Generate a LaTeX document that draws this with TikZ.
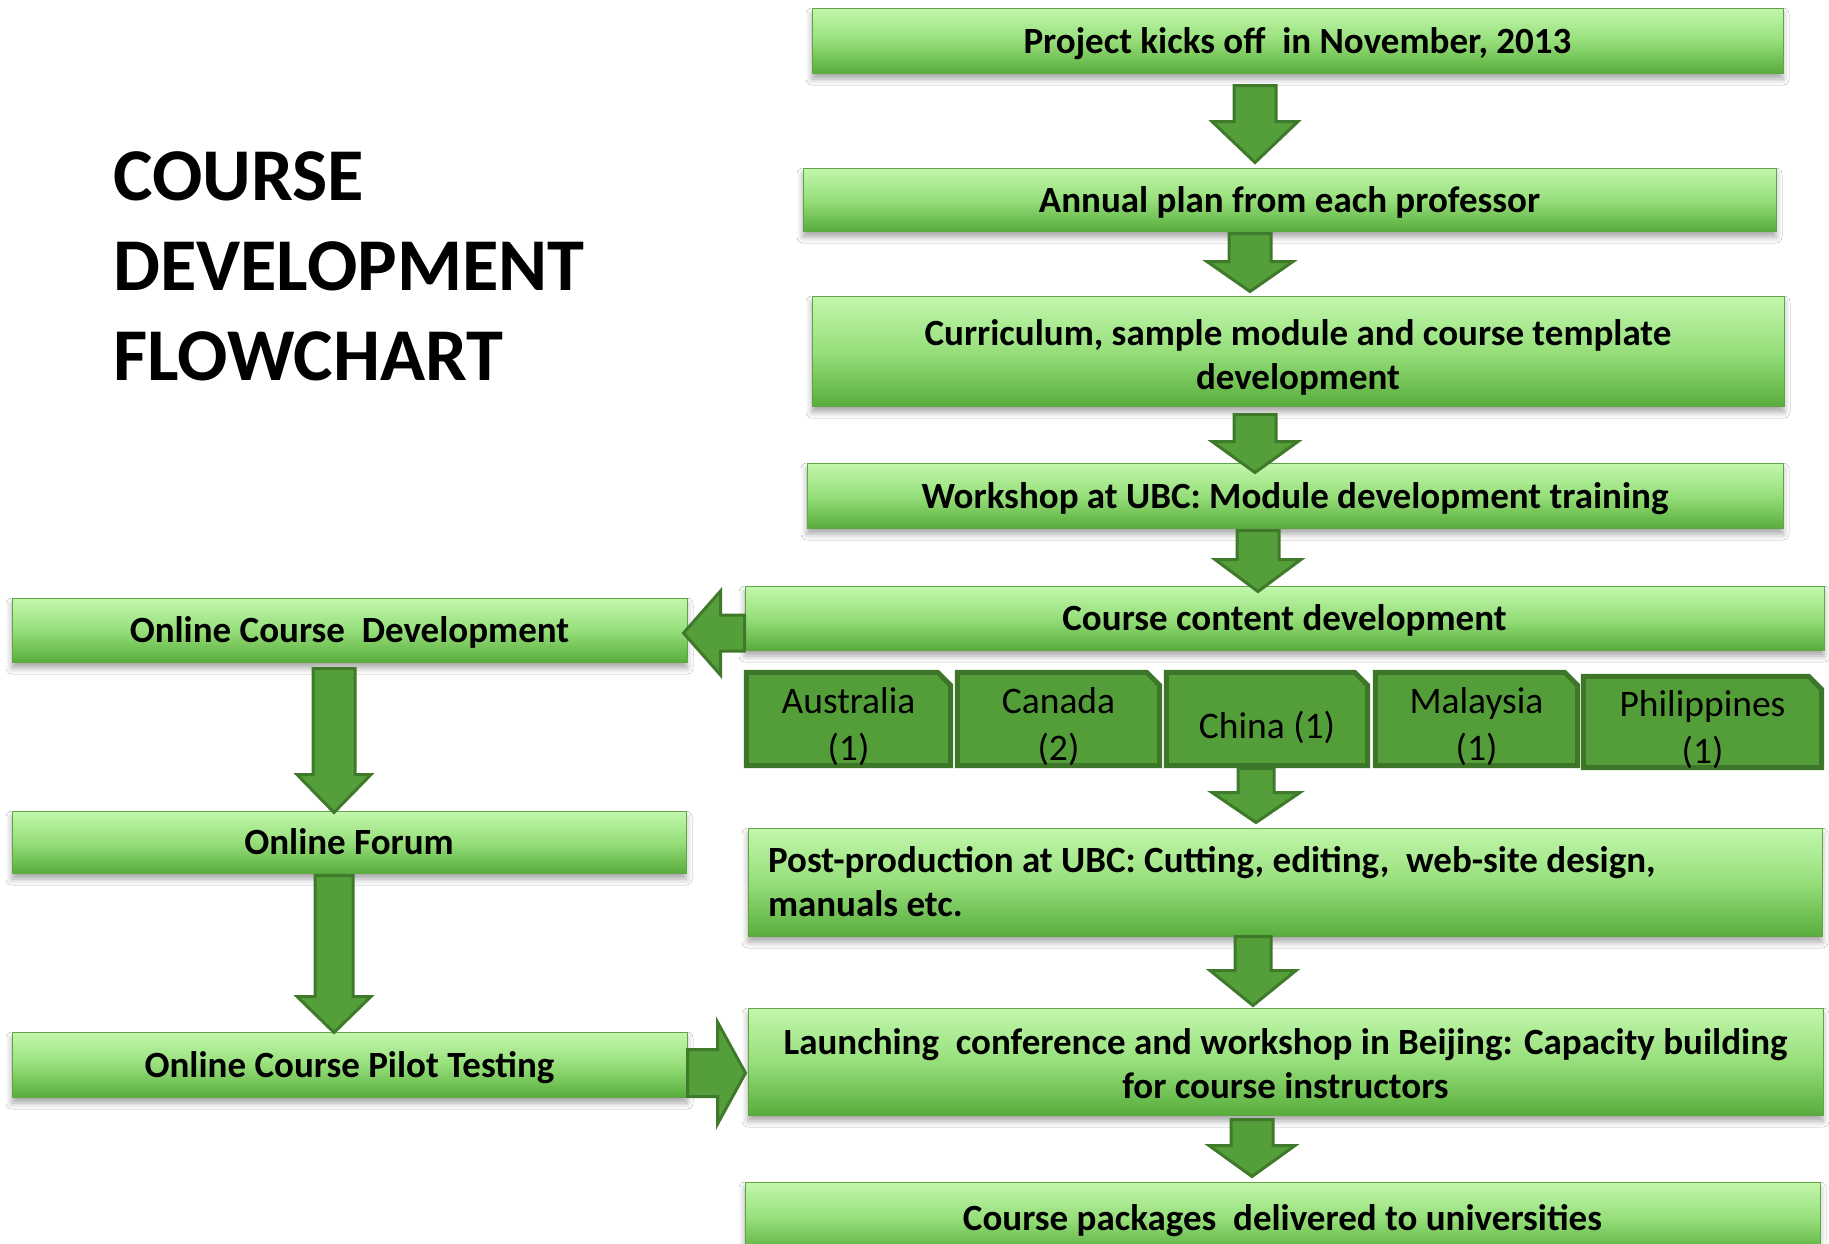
\documentclass[tikz,border=0pt]{standalone}
\usepackage{fontspec}
\setmainfont{Carlito}
\usetikzlibrary{calc,shadows.blur}
\definecolor{grtop}{HTML}{C2F7AD}
\definecolor{grmid}{HTML}{97DF7B}
\definecolor{grbot}{HTML}{58AD3C}
\definecolor{grline}{HTML}{5FA545}
\definecolor{arfill}{HTML}{559F3A}
\definecolor{arline}{HTML}{3F7A2B}
\definecolor{cfill}{HTML}{549E39}
\definecolor{cline}{HTML}{3E7629}
\tikzset{
 gbox/.style={rectangle, draw=grline, line width=1pt, top color=grtop, bottom color=grbot, middle color=grmid,
   inner sep=0pt, align=center, font=\fontsize{37}{44}\selectfont\bfseries,
   execute at begin node={\rule{0pt}{34pt}}, execute at end node={\rule[-9pt]{0pt}{0pt}},
   blur shadow={shadow xshift=0pt, shadow yshift=-6pt, shadow blur radius=6pt, shadow opacity=35}},
 blk/.style={fill=arfill, draw=arline, line width=3pt, line join=miter},
 cpos/.style={rectangle, inner sep=0pt},
 cshape/.style={fill=cfill, draw=cline, line width=5pt, line join=miter},
 ctext/.style={align=center, inner sep=0pt, font=\fontsize{37.5}{47}\selectfont},
 ttl/.style={align=left, anchor=west, inner sep=0pt, font=\fontsize{74.5}{90}\selectfont\bfseries},
}
% vertical block arrow: src, dst, x, top gap, head length, tip gap, shaft half, head half
\newcommand\vblk[8]{\path[blk] let \p1=(#1.south), \p2=(#2.north) in
 ({#3pt-#7pt},{\y1-#4pt}) -- ({#3pt+#7pt},{\y1-#4pt}) -- ({#3pt+#7pt},{\y2+#6pt+#5pt}) --
 ({#3pt+#8pt},{\y2+#6pt+#5pt}) -- ({#3pt},{\y2+#6pt}) -- ({#3pt-#8pt},{\y2+#6pt+#5pt}) --
 ({#3pt-#7pt},{\y2+#6pt+#5pt}) -- cycle;}
% country box: name, cx, cy, w, h, text
\newcommand\cbox[6]{\node[cpos, minimum width=#4pt, minimum height=#5pt] (#1) at (#2,#3) {};
 \path[cshape] (#1.north west) -- ([xshift=-13pt]#1.north east) -- ([yshift=-13pt]#1.north east) --
 (#1.south east) -- (#1.south west) -- cycle;
 \node[ctext] (#1-t) at ([yshift=-8pt]#1.center) {#6};}
\begin{document}
\begin{tikzpicture}[x=1pt,y=-1pt]
\fill[white] (0,0) rectangle (1829,1243);
\useasboundingbox (0,0) rectangle (1829,1243);

\node[ttl] (title) at (113,266) {COURSE\\DEVELOPMENT\\FLOWCHART};

\node[gbox, minimum width=971pt, minimum height=65pt] (b1) at (1297.5,40.5) {Project kicks off\ \ in November, 2013};
\node[gbox, minimum width=973pt, minimum height=63pt] (b2) at (1289.5,199.5) {Annual plan from each professor};
\node[gbox, minimum width=972pt, minimum height=110pt] (b3) at (1298,351) {\rule{0pt}{41pt}Curriculum, sample module and course template\\development};
\node[gbox, minimum width=976pt, minimum height=65pt] (b4) at (1295,495.5) {Workshop at UBC: Module development training};
\node[gbox, minimum width=1079pt, minimum height=64pt] (b5) at (1284.5,618) {Course content development};

\cbox{au}{848.5}{719}{204}{93}{Australia\\(1)}
\cbox{ca}{1058.5}{719}{202}{93}{Canada\\(2)}
\cbox{cn}{1267}{719}{201}{93}{China (1)}
\cbox{my}{1476.5}{719}{202}{93}{Malaysia\\(1)}
\cbox{ph}{1702.5}{722}{238}{91}{Philippines\\(1)}

\node[gbox, minimum width=1074pt, minimum height=108pt, align=flush left, text width=1034pt, inner xsep=20pt] (b6) at (1285,882) {Post-production at UBC: Cutting, editing,\ \ web-site design,\\manuals etc.};
\node[gbox, minimum width=1075pt, minimum height=107pt] (b7) at (1285.5,1061.5) {\rule{0pt}{39pt}Launching\ \ conference and workshop in Beijing: Capacity building\\for course instructors};
\node[gbox, minimum width=1075pt, minimum height=72pt] (b8) at (1282.5,1218) {Course packages\ \ delivered to universities};

\node[gbox, minimum width=675pt, minimum height=64pt] (ocd) at (349.5,630) {Online Course\ \ Development};
\node[gbox, minimum width=674pt, minimum height=62pt] (forum) at (349,842) {Online Forum};
\node[gbox, minimum width=675pt, minimum height=65pt] (pilot) at (349.5,1064.5) {Online Course Pilot Testing};

\vblk{b1}{b2}{1255}{12}{41}{5}{21}{43}
\vblk{b2}{b3}{1250}{2}{30}{4}{21}{43}
\vblk{b3}{b4}{1255}{8}{31}{-10}{21}{43}
\vblk{b4}{b5}{1258}{2}{32}{-6}{21}{43}
\vblk{cn}{b6}{1256}{3}{30}{5}{18}{44}
\vblk{b6}{b7}{1253}{0}{35}{2}{18}{43}
\vblk{b7}{b8}{1252}{4}{31}{5}{21}{43}
\vblk{ocd}{forum}{334}{6}{38}{-2}{21}{37}
\vblk{forum}{pilot}{334}{2}{36}{-1}{19}{37}

\path[blk] let \p1=(b5.west), \p2=(ocd.east) in
 (\x1,{\y2-3pt+18pt}) -- ({\x2+33pt},{\y2-3pt+18pt}) -- ({\x2+33pt},{\y2-3pt+42pt}) --
 ({\x2-4pt},{\y2-3pt}) -- ({\x2+33pt},{\y2-3pt-42pt}) -- ({\x2+33pt},{\y2-3pt-18pt}) --
 (\x1,{\y2-3pt-18pt}) -- cycle;
\path[blk] let \p1=(pilot.east), \p2=(b7.west) in
 (\x1,{\y1-8.5pt+23.5pt}) -- ({\x1+30pt},{\y1-8.5pt+23.5pt}) -- ({\x1+30pt},{\y1-8.5pt+51pt}) --
 ({\x2-2pt},{\y1-8.5pt}) -- ({\x1+30pt},{\y1-8.5pt-51pt}) -- ({\x1+30pt},{\y1-8.5pt-23.5pt}) --
 (\x1,{\y1-8.5pt-23.5pt}) -- cycle;
\end{tikzpicture}
\end{document}
